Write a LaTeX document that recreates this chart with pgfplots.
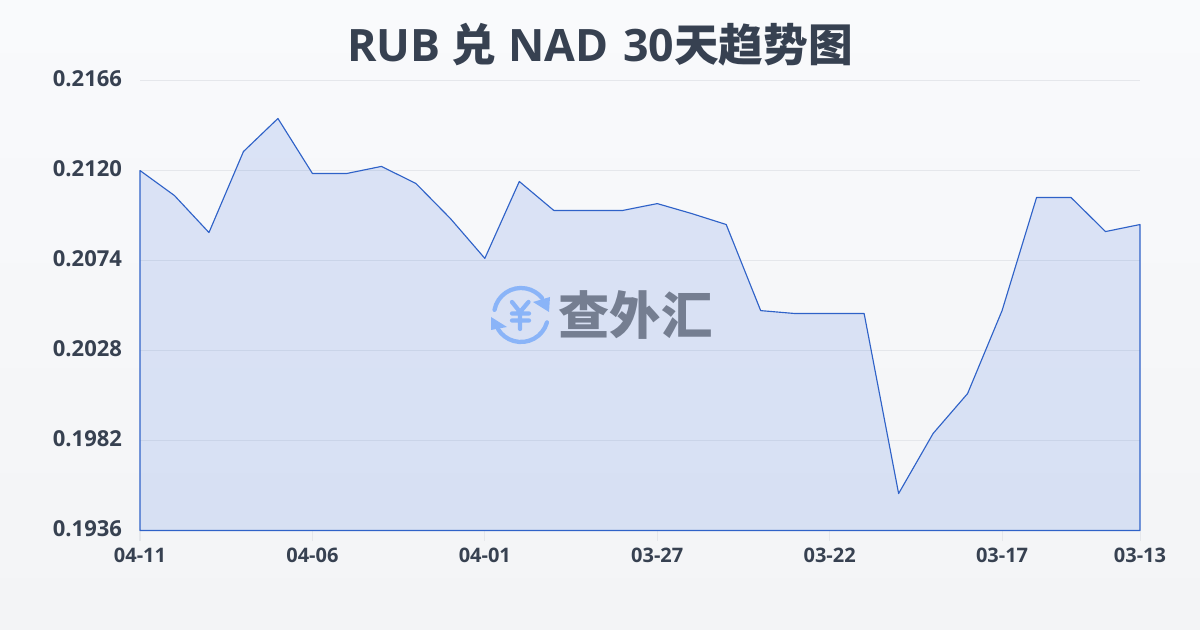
\documentclass[border=0pt]{standalone}
\usepackage{fontspec}
\usepackage{pgfplots}
\usepackage{pgfplotstable}
\pgfplotsset{compat=1.18}
\setmainfont{Open Sans}
\newfontfamily\cjk{Noto Sans CJK SC}

\definecolor{bgtop}{HTML}{F9FAFC}
\definecolor{bgbot}{HTML}{F3F4F6}
\definecolor{ink}{HTML}{374151}
\definecolor{titleink}{HTML}{374151}
\definecolor{gridc}{HTML}{E5E7EB}
\definecolor{lineblue}{HTML}{2F62C8}
\definecolor{fillblue}{HTML}{2A62DC}
\definecolor{logoblue}{HTML}{8AB4F8}
\definecolor{logotext}{HTML}{757E91}

% index, rate (newest day first)
\pgfplotstableread{
x y
0 0.21200
1 0.21072
2 0.20883
3 0.21297
4 0.21466
5 0.21185
6 0.21185
7 0.21221
8 0.21134
9 0.20955
10 0.20751
11 0.21144
12 0.20996
13 0.20996
14 0.20996
15 0.21031
16 0.20980
17 0.20924
18 0.20484
19 0.20469
20 0.20469
21 0.20469
22 0.19549
23 0.19856
24 0.20060
25 0.20484
26 0.21062
27 0.21062
28 0.20888
29 0.20924
}\ratedata

\begin{document}
\begin{tikzpicture}
% 1 px of the reference = 0.75pt
\shade[top color=bgtop,bottom color=bgbot,draw=none] (0,0) rectangle (900pt,472.5pt);
\useasboundingbox (0,0) rectangle (900pt,472.5pt);
\begin{axis}[
    at={(105pt,74.6pt)},
    anchor=south west,
    scale only axis,
    width=750pt,
    height=337.5pt,
    xmin=0, xmax=29,
    ymin=0.1936, ymax=0.2166,
    axis line style={draw=none},
    xtick={0,5,10,15,20,25,29},
    xticklabels={04-11,04-06,04-01,03-27,03-22,03-17,03-13},
    ytick={0.1936,0.1982,0.2028,0.2074,0.2120,0.2166},
    scaled y ticks=false,
    xtick pos=bottom,
    yticklabel style={
        /pgf/number format/fixed,
        /pgf/number format/fixed zerofill,
        /pgf/number format/precision=4,
        /pgf/number format/assume math mode=true,
        font=\fontsize{16.5}{18}\selectfont\bfseries,
        text=ink, yshift=1.5pt, xshift=-2.5pt},
    xticklabel style={
        font=\fontsize{15}{17}\selectfont\bfseries,
        text=ink, yshift=-2pt},
    ymajorgrids,
    grid style={draw=gridc,line width=0.75pt},
    major tick length=7.5pt,
    xtick style={draw=gridc,line width=0.75pt},
    ytick style={draw=none},
    tick align=outside,
    clip=false,
]
\addplot[draw=lineblue,line width=0.85pt,fill=fillblue,fill opacity=0.14,line join=round]
    table[x=x,y=y] {\ratedata} -- (axis cs:29,0.1936) -- (axis cs:0,0.1936) -- cycle;
\end{axis}
\node[anchor=center,font=\fontsize{33.5}{40}\selectfont\bfseries,text=titleink] at (450pt,439pt)
    {RUB {\cjk 兑} NAD\,\,30{\cjk 天趋势图}};
% watermark, in reference pixels
\begin{scope}[x=0.75pt,y=-0.75pt,yshift=472.5pt]
\draw[logoblue,line width=3.2pt,line cap=round] (521,315) ++(-169:27) arc[start angle=-169,end angle=-39,radius=27];
\draw[logoblue,line width=3.2pt,line cap=round] (521,315) ++(16:27) arc[start angle=16,end angle=148,radius=27];
\fill[logoblue] (533,302) -- (550,297) -- (549,312) -- cycle;
\fill[logoblue] (491,317) -- (507,327) -- (491,330) -- cycle;
\draw[logoblue,line width=3.2pt,line cap=round,line join=round]
    (512,302) -- (520,312) -- (528.5,302)
    (512,313.5) -- (529,313.5)
    (512,320.5) -- (529,320.5)
    (520,312) -- (520,329);
\node[anchor=center,text=logotext,font=\fontsize{38.5}{40}\selectfont\bfseries\cjk] at (635.5,315) {查外汇};
\end{scope}
\end{tikzpicture}
\end{document}
